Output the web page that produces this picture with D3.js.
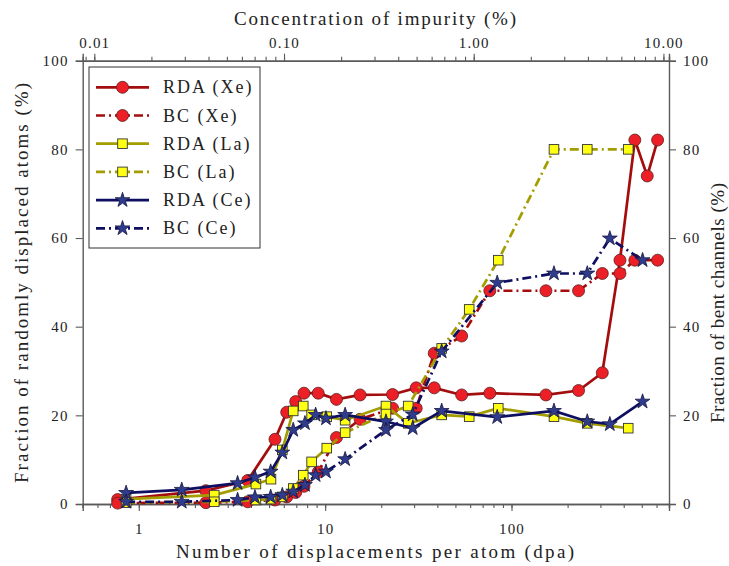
<!DOCTYPE html>
<html>
<head>
<meta charset="utf-8">
<script src="https://cdn.jsdelivr.net/npm/d3@7"></script>
<style>
  html, body { margin: 0; padding: 0; background: #fff; }
  svg text { font-family: "Liberation Serif", "DejaVu Serif", serif; fill: #222; }
</style>
</head>
<body>
<svg id="chart" width="729" height="566"></svg>
<script>
// Xe series (dpa grid and values, %)
const xeDpa    = [0.77, 2.29, 3.84, 5.38, 6.22, 6.95, 7.70, 9.18, 11.5, 15.4, 23.0, 30.8, 38.5, 54.0, 76.5, 153, 229, 307, 382, 459, 535, 608];
const rdaXe    = [1.0, 3.0, 5.3, 14.6, 20.7, 23.1, 25.0, 25.0, 23.6, 24.6, 24.7, 26.2, 26.2, 24.6, 25.0, 24.6, 25.6, 29.6, 55.0, 82.1, 74.0, 82.1];
const bcXeDpa  = [0.77, 2.29, 3.84, 5.38, 6.22, 6.95, 7.70, 9.18, 11.5, 15.4, 23.0, 30.8, 38.5, 54.0, 76.5, 153, 229, 307, 382, 459, 608];
const bcXe     = [0.2, 0.3, 0.5, 0.9, 1.6, 2.6, 4.0, 7.2, 15.0, 19.1, 21.6, 21.6, 34.0, 37.9, 48.1, 48.1, 48.1, 52.0, 52.0, 55.0, 55.0];

// La series
const laDpa    = [0.855, 2.54, 4.25, 5.12, 5.89, 6.74, 7.63, 8.46, 10.2, 12.8, 21.2, 27.9, 42.2, 59.3, 84.9, 169, 255, 423];
const rdaLa    = [1.1, 2.0, 4.5, 5.6, 12.2, 21.0, 22.1, 20.1, 19.7, 18.9, 22.1, 18.2, 20.1, 19.7, 21.6, 19.7, 18.2, 17.1];
const bcLa     = [0.3, 0.5, 0.9, 1.1, 1.6, 3.5, 6.5, 9.5, 12.6, 16.1, 20.3, 22.1, 35.1, 43.9, 55.0, 80.0, 80.0, 80.0];

// Ce series
const ceDpa    = [0.855, 1.70, 3.39, 4.20, 5.10, 5.89, 6.74, 7.79, 8.89, 10.1, 12.8, 21.2, 29.5, 42.2, 83.8, 169, 255, 337, 505];
const rdaCe    = [2.5, 3.2, 4.7, 6.0, 7.3, 11.6, 16.7, 18.2, 20.1, 19.3, 20.1, 18.6, 17.1, 21.0, 19.6, 21.0, 18.6, 18.0, 23.1];
const bcCeDpa  = [0.855, 1.70, 3.39, 4.20, 5.10, 5.89, 6.74, 7.79, 8.89, 10.1, 12.8, 21.2, 29.5, 42.2, 83.8, 169, 255, 337, 505];
const bcCe     = [0.5, 0.5, 0.9, 1.5, 1.6, 2.0, 2.8, 4.3, 6.5, 7.3, 10.1, 16.7, 20.2, 34.4, 49.9, 52.0, 52.0, 59.9, 55.0];

// Axis ticks and labels
const yTicks      = [0, 20, 40, 60, 80, 100];
const dpaMajor    = [1, 10, 100];
const dpaLabels   = ["1", "10", "100"];
const concMajor   = [0.01, 0.1, 1, 10];
const concLabels  = ["0.01", "0.10", "1.00", "10.00"];
const seriesNames = ["RDA (Xe)", "BC (Xe)", "RDA (La)", "BC (La)", "RDA (Ce)", "BC (Ce)"];

const svg = d3.select("#chart");
const L = 82.7, R = 669, T = 60.7, B = 504;

const x = d3.scaleLog().domain([0.5, 700]).range([L, R]);
const xTop = d3.scaleLog().domain([0.008687, 10.70]).range([L, R]);
const y = d3.scaleLinear().domain([0, 100]).range([B, T]);

const axisColor = "#5a5a5a";

// minor tick values for log axes
function logMinors(lo, hi) {
  const out = [];
  for (let e = Math.floor(Math.log10(lo)); e <= Math.ceil(Math.log10(hi)); e++) {
    for (let m = 1; m <= 9; m++) {
      const v = m * Math.pow(10, e);
      if (v >= lo * 0.999 && v <= hi * 1.001) out.push(v);
    }
  }
  return out;
}

// bottom axis
const gB = svg.append("g").attr("transform", `translate(0,${B})`);
gB.call(d3.axisBottom(x).tickValues(logMinors(0.5, 700)).tickSize(4).tickFormat(""));
gB.append("g").call(d3.axisBottom(x).tickValues(dpaMajor).tickSize(7)
  .tickFormat((d, i) => dpaLabels[i]).tickPadding(12));

// top axis
const gT = svg.append("g").attr("transform", `translate(0,${T})`);
gT.call(d3.axisTop(xTop).tickValues(logMinors(0.008687, 10.70)).tickSize(4).tickFormat(""));
gT.append("g").call(d3.axisTop(xTop).tickValues(concMajor).tickSize(7)
  .tickFormat((d, i) => concLabels[i]).tickPadding(6));

// left and right axes
svg.append("g").attr("transform", `translate(${L},0)`)
  .call(d3.axisLeft(y).tickValues(yTicks).tickSize(7).tickPadding(7));
svg.append("g").attr("transform", `translate(${R},0)`)
  .call(d3.axisRight(y).tickValues(yTicks).tickSize(7).tickPadding(7));

svg.selectAll(".domain").attr("stroke", axisColor).attr("stroke-width", 1.4);
svg.selectAll(".tick line").attr("stroke", axisColor).attr("stroke-width", 1.1);
svg.selectAll(".tick text").attr("font-size", 15).attr("letter-spacing", 1.2)
  .attr("font-family", "Liberation Serif").attr("fill", "#333");

// axis titles
const titleStyle = t => t.attr("font-size", 19).attr("fill", "#222").attr("text-anchor", "middle");
svg.append("text").attr("x", 375).attr("y", 25).text("Concentration of impurity (%)")
  .call(titleStyle).attr("textLength", 282).attr("lengthAdjust", "spacing");
svg.append("text").attr("x", 375).attr("y", 558).text("Number of displacements per atom (dpa)")
  .call(titleStyle).attr("textLength", 398).attr("lengthAdjust", "spacing");
svg.append("text").attr("transform", "translate(28,283) rotate(-90)")
  .text("Fraction of randomly displaced atoms (%)")
  .call(titleStyle).attr("textLength", 400).attr("lengthAdjust", "spacing");
svg.append("text").attr("transform", "translate(724,303) rotate(-90)")
  .text("Fraction of bent channels (%)")
  .call(titleStyle).attr("textLength", 240).attr("lengthAdjust", "spacing");

// series styles
const red = { line: "#a30d0d", fill: "#ec1f27", shape: "circle" };
const yel = { line: "#a49d00", fill: "#ffff14", shape: "square" };
const nav = { line: "#0f0f62", fill: "#2f3b8c", shape: "star" };
const solid = null, dashdot = "9,4,2,4";

const series = [
  { name: seriesNames[0], xs: xeDpa,   ys: rdaXe, st: red, dash: solid },
  { name: seriesNames[1], xs: bcXeDpa, ys: bcXe,  st: red, dash: dashdot },
  { name: seriesNames[2], xs: laDpa,   ys: rdaLa, st: yel, dash: solid },
  { name: seriesNames[3], xs: laDpa,   ys: bcLa,  st: yel, dash: dashdot },
  { name: seriesNames[4], xs: ceDpa,   ys: rdaCe, st: nav, dash: solid },
  { name: seriesNames[5], xs: bcCeDpa, ys: bcCe,  st: nav, dash: dashdot }
];

function drawMarker(g, st, cx, cy) {
  if (st.shape === "circle") {
    g.append("circle").attr("cx", cx).attr("cy", cy).attr("r", 6)
      .attr("fill", st.fill).attr("stroke", "#5a2020").attr("stroke-width", 0.8);
  } else if (st.shape === "square") {
    g.append("rect").attr("x", cx - 4.8).attr("y", cy - 4.8).attr("width", 9.6).attr("height", 9.6)
      .attr("fill", st.fill).attr("stroke", "#333").attr("stroke-width", 0.9);
  } else {
    g.append("path").attr("d", d3.symbol(d3.symbolStar, 68)())
      .attr("transform", `translate(${cx},${cy})`)
      .attr("fill", st.fill).attr("stroke", "#151540").attr("stroke-width", 0.8);
  }
}

const line = d3.line().x(d => x(d[0])).y(d => y(d[1]));
const plot = svg.append("g");
series.forEach(s => {
  const pts = s.xs.map((v, i) => [v, s.ys[i]]);
  const g = plot.append("g");
  g.append("path").attr("d", line(pts)).attr("fill", "none")
    .attr("stroke", s.st.line).attr("stroke-width", 2.7)
    .attr("stroke-dasharray", s.dash);
  pts.forEach(p => drawMarker(g, s.st, x(p[0]), y(p[1])));
});

// legend
const lg = svg.append("g");
lg.append("rect").attr("x", 89).attr("y", 67).attr("width", 171).attr("height", 181)
  .attr("fill", "#fff").attr("stroke", "#333").attr("stroke-width", 1);
series.forEach((s, i) => {
  const yy = 87.3 + i * 28.2;
  lg.append("line").attr("x1", 96).attr("x2", 149).attr("y1", yy).attr("y2", yy)
    .attr("stroke", s.st.line).attr("stroke-width", 2.7).attr("stroke-dasharray", s.dash);
  drawMarker(lg, s.st, 122.5, yy);
  lg.append("text").attr("x", 163).attr("y", yy + 6).attr("font-size", 18)
    .attr("letter-spacing", 2).attr("fill", "#222").text(s.name);
});
</script>
</body>
</html>
